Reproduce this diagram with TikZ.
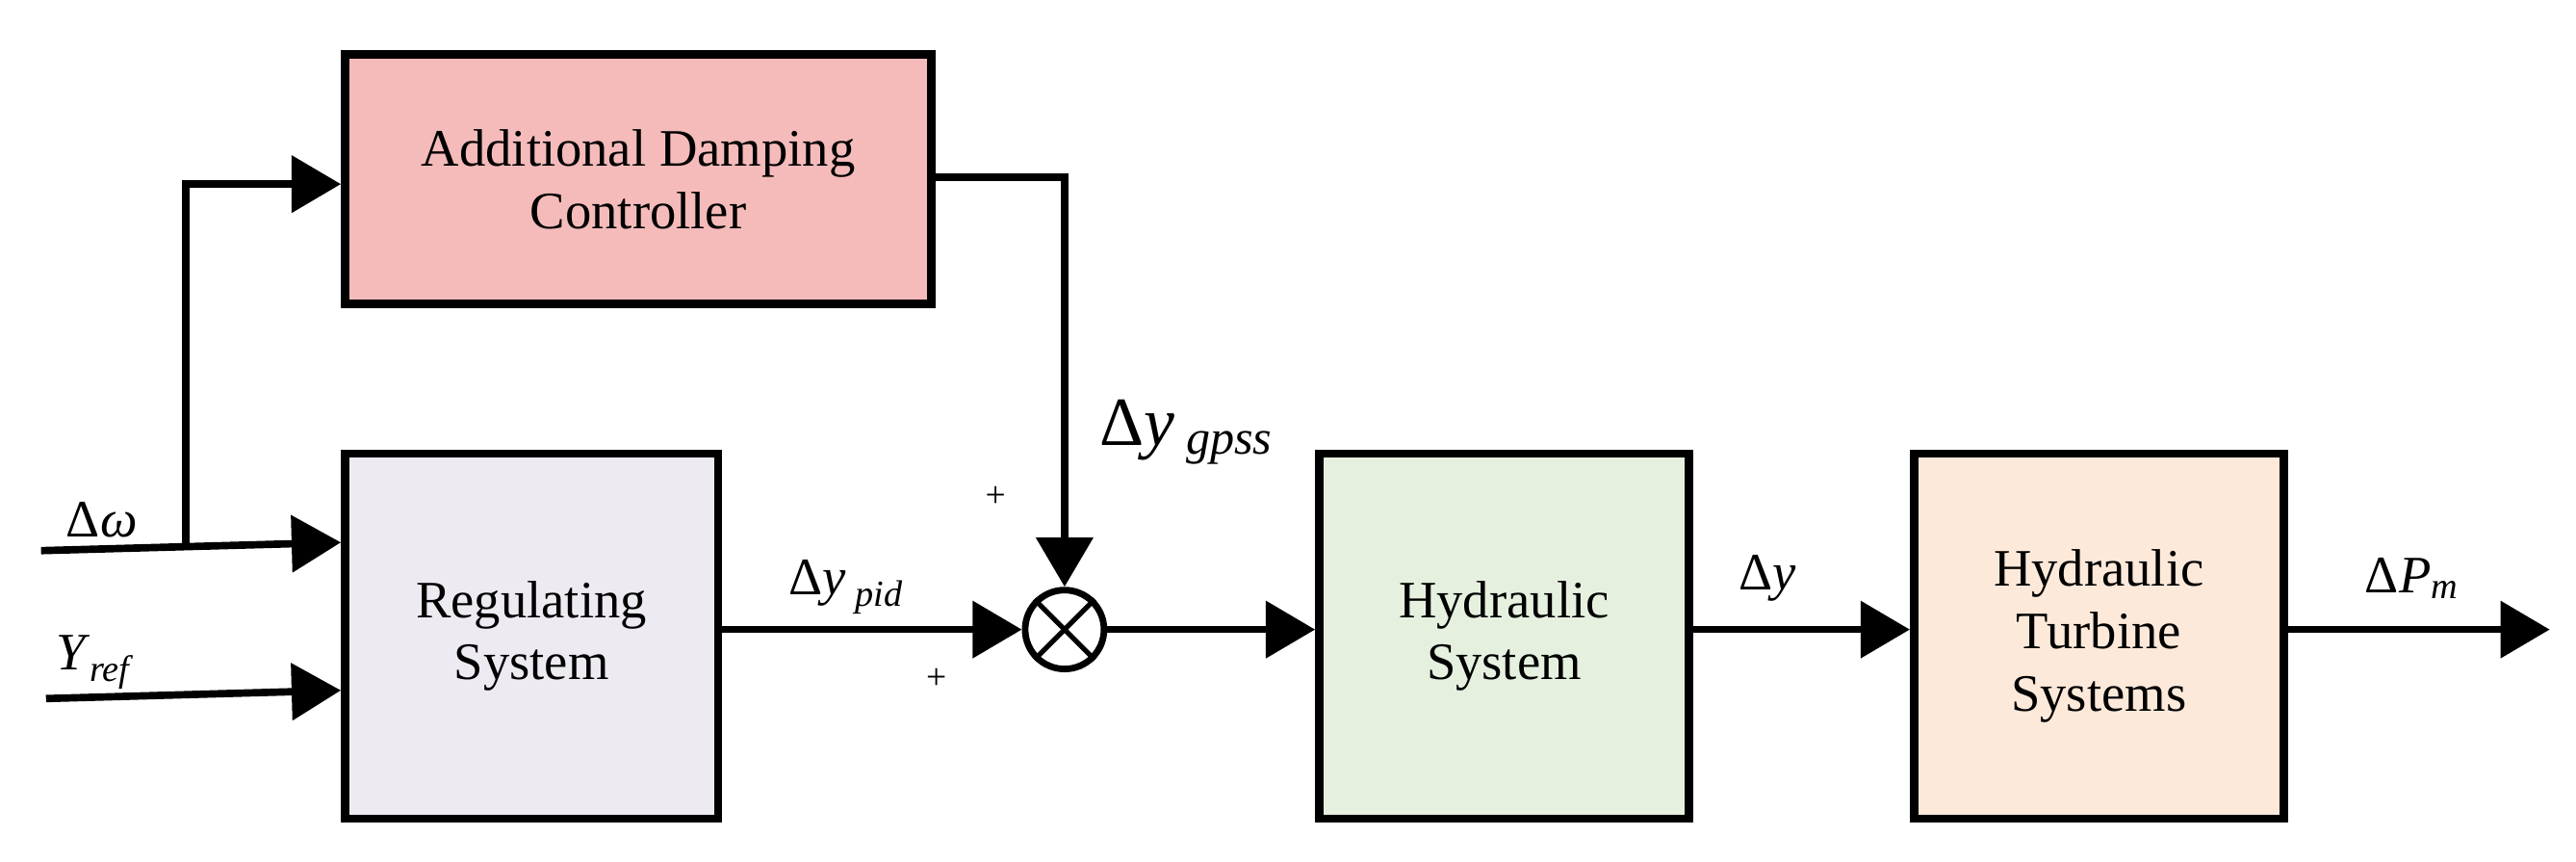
\documentclass[tikz,border=0pt]{standalone}
\usepackage{fontspec}
\setmainfont{Liberation Serif}
\usetikzlibrary{arrows.meta}
\begin{document}
\begin{tikzpicture}[x=1pt,y=-1pt,
 blk/.style={draw,line width=5pt,font=\fontsize{32}{38}\selectfont,align=center,inner sep=0},
 ln/.style={line width=4.5pt},
 ar/.style={ln,-{Triangle[length=30pt,width=34pt]}},
 lbl/.style={font=\fontsize{32}{36}\selectfont,inner sep=0}]
\useasboundingbox (0,0) rectangle (1568,524);
\definecolor{cA}{HTML}{F4BBBA}\definecolor{cR}{HTML}{EEEAF2}
\definecolor{cH}{HTML}{E6F0DF}\definecolor{cT}{HTML}{FDE9DA}
\node[blk,fill=cA,minimum width=357pt,minimum height=152pt] (adc) at (388.5,109) {Additional Damping\\Controller};
\node[blk,fill=cR,minimum width=227pt,minimum height=222pt] (reg) at (323.5,387) {Regulating\\System};
\node[blk,fill=cH,minimum width=225pt,minimum height=222pt] (hs) at (915.5,387) {Hydraulic\\System};
\node[blk,fill=cT,minimum width=225pt,minimum height=222pt] (ht) at (1277.5,387) {Hydraulic\\Turbine\\Systems};
\node[draw,circle,line width=4pt,minimum size=48pt,inner sep=0] (s) at (648,383) {};
\draw[line width=3pt] (s.45)--(s.225) (s.135)--(s.315);
\coordinate (w0) at (25,335); \coordinate (b) at (113,332.5);
\coordinate (y0) at (28,425); \coordinate (out) at (1552,383);
\coordinate (c1) at (648,108);
\draw[ar] (w0) -- (reg.west|-0,330);
\draw[ar] (b) |- (adc.west|-0,112);
\draw[ar] (y0) -- (reg.west|-0,420);
\draw[ar] (reg.east|-s) -- (s.west);
\draw[ar] (adc.east|-c1) -- (c1) -- (s.north);
\draw[ar] (s.east) -- (hs.west|-s);
\draw[ar] (hs.east|-s) -- (ht.west|-s);
\draw[ar] (ht.east|-s) -- (out);
\node[lbl] (lw) at (62,316) {Δ\textit{ω}};
\node[lbl] (lr) at (58,403) {\textit{Y}\textsubscript{\textit{ref}}};
\node[lbl] (lp) at (515,357) {Δ\textit{y}\,\textsubscript{\textit{pid}}};
\node[lbl,font=\fontsize{22}{24}\selectfont] (p1) at (570,413) {+};
\node[lbl,font=\fontsize{22}{24}\selectfont] (p2) at (606,302) {+};
\node[lbl,font=\fontsize{42}{46}\selectfont] (lg) at (722,263) {Δ\textit{y}\,\textsubscript{\textit{gpss}}};
\node[lbl] (ly) at (1076,352) {Δ\textit{y}};
\node[lbl] (lm) at (1468,352) {Δ\textit{P}\textsubscript{\textit{m}}};
\end{tikzpicture}
\end{document}
